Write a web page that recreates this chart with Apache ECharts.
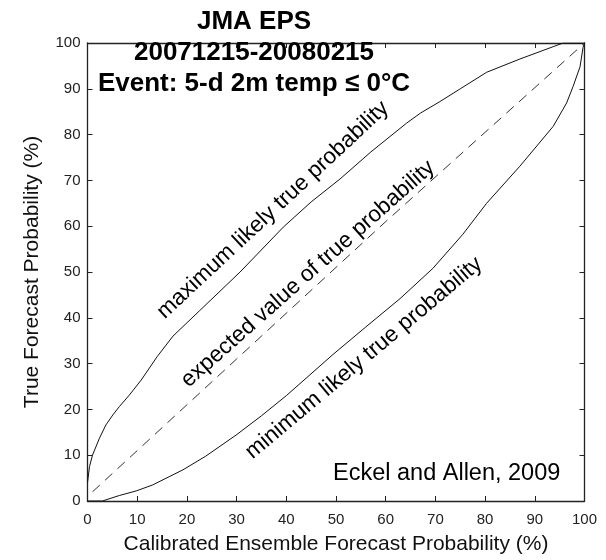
<!DOCTYPE html>
<html>
<head>
<meta charset="utf-8">
<script src="https://cdn.jsdelivr.net/npm/echarts@6/dist/echarts.min.js"></script>
<style>
    html, body {margin: 0; padding: 0; background: #fff;}
    #chart {width: 606px; height: 560px;}
</style>
</head>
<body>
<div id="chart"></div>
<script>
// values, [forecast %, true %]
const maxLikely = [
    [0, 4], [0.4, 7.5], [1, 10], [2.4, 13.7], [3.7, 16.6], [5.1, 18.8], [6.4, 20.6],
    [8.4, 23.1], [10.8, 26.4], [14, 31.5], [17.2, 36], [22.6, 41.6], [30.7, 50],
    [39.4, 59.8], [45, 65.3], [50.8, 70.3], [57, 76.2], [64.2, 82.5], [67, 84.7], [70.9, 87.2],
    [75, 90], [80.3, 93.6], [87, 96.5], [93.7, 99.2], [95.7, 100], [100, 100]
];
const expectedVal = [[1, 2], [30, 31], [60, 61], [100, 100]];
const minLikely = [
    [0, 0], [3, 0], [6.4, 1.2], [9.8, 2.2], [13.1, 3.5], [19.2, 6.8], [23.8, 9.8],
    [29.9, 14.4], [35, 18.6], [40, 23], [49.4, 32], [56, 38], [62.9, 44.2], [69.5, 50.8],
    [75.5, 58.2], [80.3, 65], [87, 73.1], [93.7, 81.8], [96.4, 86.9], [97.7, 90.5],
    [99.1, 94.8], [99.7, 99], [100, 100]
];

const titleLines = ['JMA EPS', '20071215-20080215', 'Event: 5-d 2m temp \u2264 0\u00b0C'];
const xName = 'Calibrated Ensemble Forecast Probability (%)';
const yName = 'True Forecast Probability (%)';
const credit = 'Eckel and Allen, 2009';
const curveLabels = ['maximum likely true probability', 'expected value of true probability', 'minimum likely true probability'];

const font = "'Liberation Sans', Arial, sans-serif";
const ink = '#111';

const chart = echarts.init(document.getElementById('chart'));

const boxAxis = (extra) => Object.assign({
    type: 'value',
    min: 0,
    max: 100,
    interval: 10,
    splitLine: {show: false},
    axisLine: {show: true, onZero: false, lineStyle: {color: '#222', width: 1.3}},
    axisTick: {show: true, inside: true, length: 5, lineStyle: {color: '#222', width: 1}},
}, extra);

const deg = Math.PI / 180;

const lineSeries = (data, dashed) => ({
    type: 'line',
    data: data,
    showSymbol: false,
    symbol: 'none',
    silent: true,
    animation: false,
    lineStyle: {color: dashed ? '#333' : ink, width: 1, type: dashed ? [10, 7] : 'solid'},
    xAxisIndex: 0,
    yAxisIndex: 0,
});

const rotatedLabel = (text, x, y, angle) => ({
    type: 'text', x: x, y: y, rotation: angle * deg, silent: true,
    style: {text: text, font: '22.5px ' + font, fill: '#000', align: 'center', verticalAlign: 'middle'}
});

chart.setOption({
    backgroundColor: '#fff',
    animation: false,
    textStyle: {fontFamily: font},
    title: {
        text: titleLines.join('\n'),
        left: 254,
        top: 6,
        textAlign: 'center',
        padding: 0,
        textStyle: {fontSize: 26, fontWeight: 'bold', color: '#000', lineHeight: 31, fontFamily: font},
    },
    grid: {left: 87.5, right: 21.5, top: 43, bottom: 57, containLabel: false},
    xAxis: [
        boxAxis({
            position: 'bottom',
            name: xName,
            nameLocation: 'middle',
            nameGap: 33,
            nameTextStyle: {fontSize: 21, color: '#111', fontFamily: font},
            axisLabel: {fontSize: 15, color: '#222', margin: 11, fontFamily: font},
        }),
        boxAxis({position: 'top', axisLabel: {show: false}}),
    ],
    yAxis: [
        boxAxis({
            position: 'left',
            name: yName,
            nameLocation: 'middle',
            nameGap: 45,
            nameTextStyle: {fontSize: 21, color: '#111', fontFamily: font},
            axisLabel: {fontSize: 15, color: '#222', margin: 7, fontFamily: font},
        }),
        boxAxis({position: 'right', axisLabel: {show: false}}),
    ],
    series: [
        lineSeries(maxLikely, false),
        lineSeries(expectedVal, true),
        lineSeries(minLikely, false),
    ],
    graphic: [
        rotatedLabel(curveLabels[0], 273, 210, 43),
        rotatedLabel(curveLabels[1], 308, 274, 41.5),
        rotatedLabel(curveLabels[2], 364, 358, 40),
        {
            type: 'text', x: 333, y: 473.5, silent: true,
            style: {text: credit, font: '23.5px ' + font, fill: '#000', align: 'left', verticalAlign: 'middle'}
        },
    ],
});
</script>
</body>
</html>
